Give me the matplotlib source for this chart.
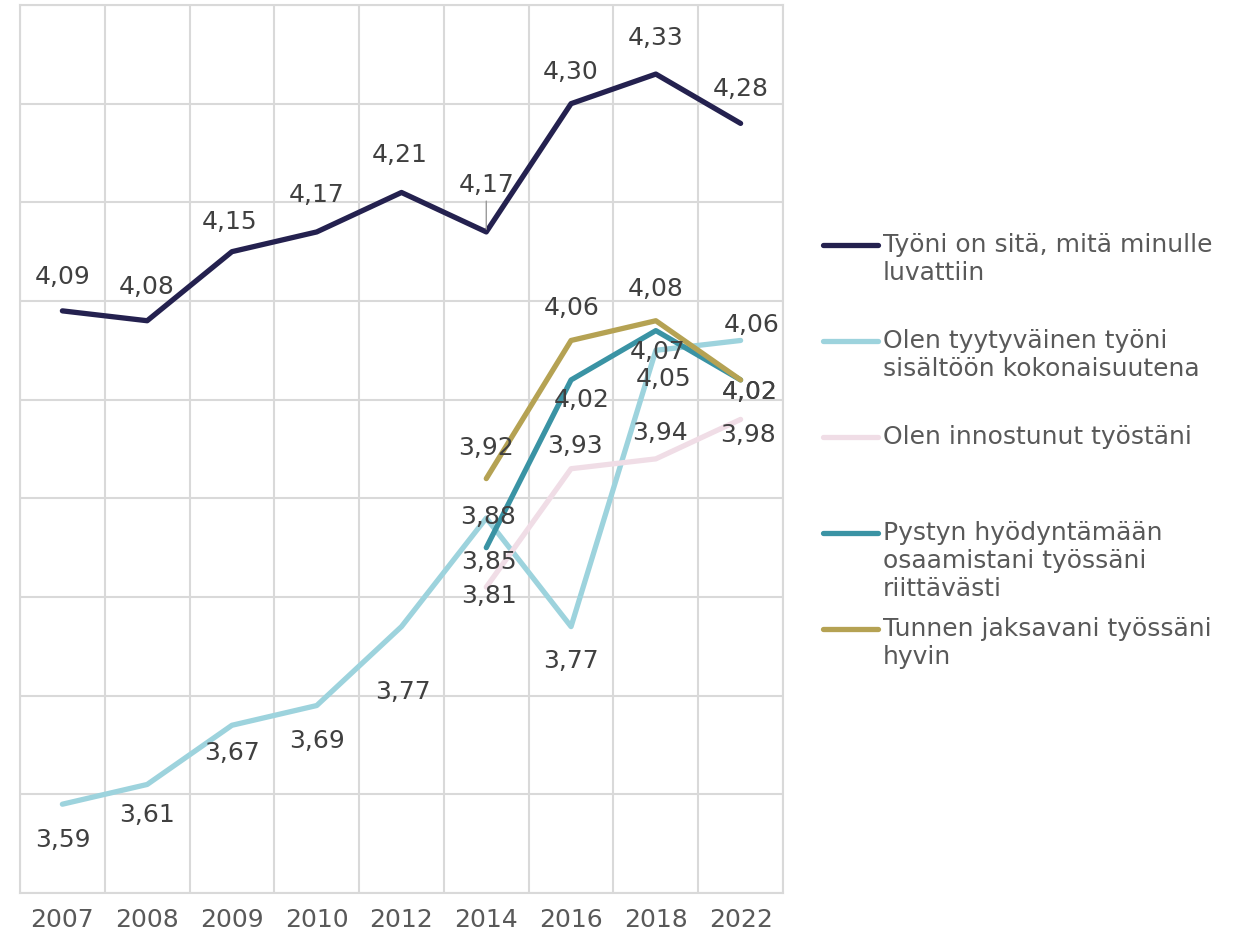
import numpy as np
import matplotlib
matplotlib.use("Agg")
import matplotlib.pyplot as plt
from matplotlib.lines import Line2D

plt.rcParams['font.family'] = ['DejaVu Sans']

years = ["2007", "2008", "2009", "2010", "2012", "2014", "2016", "2018", "2022"]
nan = np.nan
s_lupattu = [4.09, 4.08, 4.15, 4.17, 4.21, 4.17, 4.30, 4.33, 4.28]
s_tyytyvainen = [3.59, 3.61, 3.67, 3.69, 3.77, 3.88, 3.77, 4.05, 4.06]
s_innostunut = [nan, nan, nan, nan, nan, 3.81, 3.93, 3.94, 3.98]
s_osaaminen = [nan, nan, nan, nan, nan, 3.85, 4.02, 4.07, 4.02]
s_jaksaminen = [nan, nan, nan, nan, nan, 3.92, 4.06, 4.08, 4.02]
labels = [
    "Työni on sitä, mitä minulle\nluvattiin",
    "Olen tyytyväinen työni\nsisältöön kokonaisuutena",
    "Olen innostunut työstäni",
    "Pystyn hyödyntämään\nosaamistani työssäni\nriittävästi",
    "Tunnen jaksavani työssäni\nhyvin",
]

series = [s_lupattu, s_tyytyvainen, s_innostunut, s_osaaminen, s_jaksaminen]
colors = ["#24214f", "#9dd3dd", "#f0dde6", "#3a93a4", "#b5a253"]
draw_order = [0, 1, 2, 3, 4]

# label offsets in pixels (dx, dy) per series
offsets = [
    [(0, 34), (0, 34), (-2, 30), (0, 37), (-2, 37), (0, 47), (0, 32), (0, 36), (0, 34)],
    [(0, -36), (0, -31), (0, -28), (0, -35), (1, -65), (2, 1), (0, -34), (8, -29), (11, 15)],
    [None] * 5 + [(3, -9), (4, 23), (4, 26), (7, -16)],
    [None] * 5 + [(3, -14), (11, -20), (2, -21), (9, -12)],
    [None] * 5 + [(0, 31), (1, 32), (0, 32), (9, -12)],
]

W, H = 1239, 934
fig = plt.figure(figsize=(W / 100, H / 100), dpi=100)
ax = fig.add_axes([20 / W, 1 - 893 / H, 763 / W, 888 / H])

x = np.arange(len(years))
grid_c = "#d9d9d9"
for k in draw_order:
    ax.plot(x, series[k], color=colors[k], lw=3.8, solid_capstyle="round",
            solid_joinstyle="round", zorder=3 + k * 0.1)

label_c = "#404040"
for k in range(len(series)):
    for i, v in enumerate(series[k]):
        off = offsets[k][i]
        if off is None or np.isnan(v):
            continue
        txt = f"{v:.2f}".replace(".", ",")
        kw = {}
        if k == 0 and i == 5:
            kw["arrowprops"] = dict(arrowstyle="-", color="#9a9a9a", lw=1.0,
                                    shrinkA=1, shrinkB=2, relpos=(0.5, 0.0))
        ax.annotate(txt, xy=(i, v), xytext=off, textcoords="offset pixels",
                    ha="center", va="center", fontsize=18, color=label_c,
                    zorder=10, **kw)

ax.set_xlim(-0.5, len(years) - 0.5)
ax.set_ylim(3.5, 4.4)
ax.set_xticks(x)
ax.set_xticklabels(years)
ax.set_xticks(np.arange(-0.5, len(years), 1.0), minor=True)
ax.set_yticks(np.arange(3.5, 4.41, 0.1))
ax.set_yticklabels([])
ax.tick_params(axis="x", which="both", length=0, pad=11, labelsize=18,
               labelcolor="#595959")
ax.tick_params(axis="y", length=0)
ax.grid(False)
ax.xaxis.grid(True, which="minor", color=grid_c, lw=1.5)
ax.yaxis.grid(True, which="major", color=grid_c, lw=1.5)
for sp in ax.spines.values():
    sp.set_color(grid_c)
    sp.set_linewidth(1.5)
ax.set_axisbelow(True)

# legend (manual, handle aligned with first text line)
leg_y = [245, 341, 437, 533, 629]
for k, (yy, lab) in enumerate(zip(leg_y, labels)):
    fig.add_artist(Line2D([823 / W, 878 / W], [1 - yy / H, 1 - yy / H],
                          transform=fig.transFigure, color=colors[k], lw=3.8,
                          solid_capstyle="round"))
    fig.text(883 / W, 1 - (yy - 12) / H, lab, ha="left", va="top",
             fontsize=18, color="#595959", linespacing=1.2)

fig.savefig("out.png", dpi=100, facecolor="white")
